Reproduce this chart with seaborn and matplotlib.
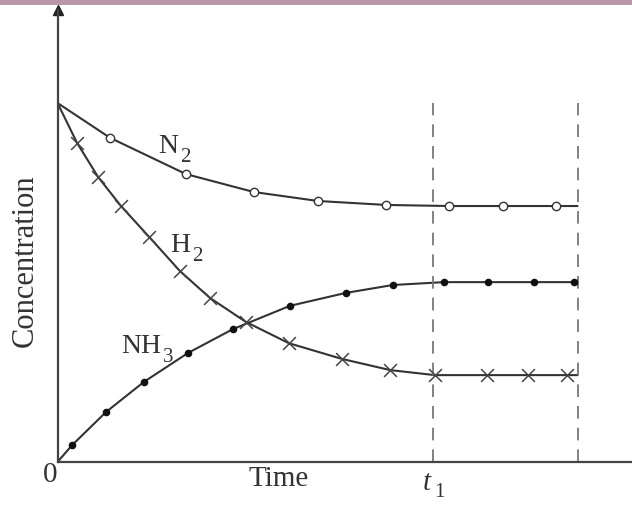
import pandas as pd
import matplotlib.pyplot as plt
import seaborn as sns
from matplotlib.patches import Rectangle
from matplotlib.transforms import IdentityTransform

# values (time in units where t1 = 10, concentration arbitrary)
t_end = 13.85
t1 = 10.0

time_n2 = [1.40, 3.42, 5.23, 6.94, 8.75, 10.43, 11.86, 13.28]
conc_n2 = [9.03, 8.02, 7.52, 7.27, 7.16, 7.13, 7.13, 7.13]
start_n2 = 10.0

time_h2 = [0.52, 1.08, 1.69, 2.44, 3.26, 4.06, 5.02, 6.16, 7.58, 8.86, 10.05, 11.43, 12.53, 13.57]
conc_h2 = [8.89, 7.94, 7.13, 6.27, 5.32, 4.57, 3.90, 3.31, 2.87, 2.56, 2.42, 2.42, 2.42, 2.42]
start_h2 = 10.0

time_nh3 = [0.39, 1.29, 2.30, 3.48, 4.67, 6.19, 7.68, 8.93, 10.29, 11.46, 12.69, 13.76]
conc_nh3 = [0.47, 1.39, 2.23, 3.04, 3.70, 4.35, 4.71, 4.93, 5.01, 5.01, 5.01, 5.01]
start_nh3 = 0.0

sns.set_style('white')
plt.rcParams['font.family'] = ['Liberation Serif', 'DejaVu Serif']

ink = '#333333'


def curve(times, concs, start):
    return pd.DataFrame({'time': [0.0] + times + [t_end],
                         'conc': [start] + concs + [concs[-1]]})


fig = plt.figure(figsize=(6.32, 5.08), dpi=100)
ax = fig.add_axes([57.5 / 632, 46 / 508, 574.5 / 632, 452 / 508])
ax.set_xlim(0, 15.30)
ax.set_ylim(0, 12.59)

line_kw = dict(color=ink, linewidth=1.5, sort=False, estimator=None, ax=ax)
sns.lineplot(data=curve(time_n2, conc_n2, start_n2), x='time', y='conc', **line_kw)
sns.lineplot(data=curve(time_h2, conc_h2, start_h2), x='time', y='conc', **line_kw)
sns.lineplot(data=curve(time_nh3, conc_nh3, start_nh3), x='time', y='conc', **line_kw)

sns.scatterplot(x=time_n2, y=conc_n2, marker='o', s=36, color='white',
                edgecolor=ink, linewidth=1.0, ax=ax, zorder=3)
sns.scatterplot(x=time_h2, y=conc_h2, marker='x', s=85, color='#444444',
                linewidth=1.1, ax=ax, zorder=3)
sns.scatterplot(x=time_nh3, y=conc_nh3, marker='o', s=30, color='#111111',
                linewidth=0, ax=ax, zorder=3)

for tx in [t1, t_end]:
    ax.plot([tx, tx], [0, 10.0], color='#777777', linewidth=1.3, dashes=(7, 5))

# axes: plain spines, arrow on the vertical one
for side in ['top', 'right']:
    ax.spines[side].set_visible(False)
for side in ['left', 'bottom']:
    ax.spines[side].set_color('#444444')
    ax.spines[side].set_linewidth(1.6)
ax.plot(0, 1, '^', color='#222222', markersize=7, transform=ax.get_xaxis_transform(),
        clip_on=False)
ax.set_xticks([])
ax.set_yticks([])
ax.set_xlabel('')
ax.set_ylabel('')

ax.text(5.90, -0.47, 'Time', fontsize=21, ha='center', va='center', color=ink)
ax.text(-0.20, -0.36, '0', fontsize=21, ha='center', va='center', color=ink)
ax.text(-0.87, 5.60, 'Concentration', fontsize=22, rotation=90, ha='center',
        va='center', color=ink)

renderer = fig.canvas.get_renderer()


def chem(x, y, main, sub, size=20, sub_size=15, gap=2, drop=9, style='normal'):
    t = ax.text(x, y, main, fontsize=size, ha='left', va='baseline', color=ink,
                style=style)
    bb = t.get_window_extent(renderer)
    bx, by = ax.transData.transform((x, y))
    ax.text(bb.x1 + gap, by - drop, sub, fontsize=sub_size, ha='left', va='baseline',
            color=ink, transform=IdentityTransform())


chem(2.68, 8.61, 'N', '2')
chem(3.00, 5.85, 'H', '2')
chem(1.69, 3.04, 'NH', '3')
chem(9.73, -0.78, 't', '1', size=21, sub_size=15, gap=3, drop=7, style='italic')

# strip across the top of the screenshot
fig.add_artist(Rectangle((0, 1 - 5 / 508), 1, 5 / 508, transform=fig.transFigure,
                         color='#b996a8', linewidth=0))

fig.savefig('out.png', dpi=100)
